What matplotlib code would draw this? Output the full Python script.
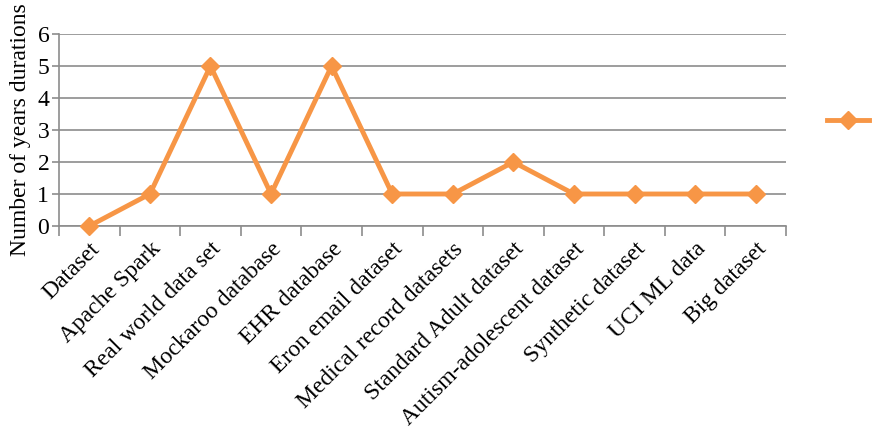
import matplotlib.pyplot as plt
from matplotlib.ticker import FixedLocator


# длительность (в годах) по каждому источнику данных
categories = [
    "Dataset",
    "Apache Spark",
    "Real world data set",
    "Mockaroo database",
    "EHR database",
    "Eron email dataset",
    "Medical record datasets",
    "Standard Adult dataset",
    "Autism-adolescent dataset",
    "Synthetic dataset",
    "UCI ML data",
    "Big dataset",
]
years = [0, 1, 5, 1, 5, 1, 1, 2, 1, 1, 1, 1]
y_ticks = [0, 1, 2, 3, 4, 5, 6]

orange = "#F79646"
grid_gray = "#8C8C8C"

plt.rcParams["font.family"] = ["Liberation Serif", "DejaVu Serif"]

fig = plt.figure(figsize=(8.75, 4.3), dpi=100)
ax = fig.add_axes([59 / 875, 1 - 226 / 430, (786 - 59) / 875, (226 - 34) / 430])

x = list(range(len(categories)))
line, = ax.plot(
    x, years,
    color=orange, linewidth=3.5,
    marker="D", markersize=9.5, markeredgecolor=orange, markerfacecolor=orange,
    zorder=3, clip_on=False,
)

ax.set_xlim(-0.5, len(categories) - 0.5)
ax.set_ylim(0, 6)
ax.set_yticks(y_ticks)
ax.yaxis.grid(True, color=grid_gray, linewidth=1.2)
ax.set_axisbelow(True)

# подписи категорий по центру, засечки — на границах категорий
ax.set_xticks(x)
ax.set_xticklabels(categories, rotation=45, ha="right", rotation_mode="anchor", fontsize=17)
ax.xaxis.set_minor_locator(FixedLocator([i - 0.5 for i in range(len(categories) + 1)]))
ax.tick_params(axis="x", which="major", length=0, pad=9)
ax.tick_params(axis="x", which="minor", length=7, width=1.2, color=grid_gray, direction="out")
ax.tick_params(axis="y", length=5, width=1.2, color=grid_gray, labelsize=17, pad=2)

for side in ("top", "right"):
    ax.spines[side].set_visible(False)
for side in ("left", "bottom"):
    ax.spines[side].set_color(grid_gray)
    ax.spines[side].set_linewidth(1.2)

ax.set_ylabel("Number of years durations", fontsize=17)
ax.yaxis.set_label_coords(-0.038, 0.5)

leg = fig.legend(
    [line], [""],
    loc="center", bbox_to_anchor=(848 / 875, 1 - 121 / 430),
    frameon=False, handlelength=3.0, handletextpad=0, borderpad=0,
)

fig.savefig("out.png", dpi=100)
